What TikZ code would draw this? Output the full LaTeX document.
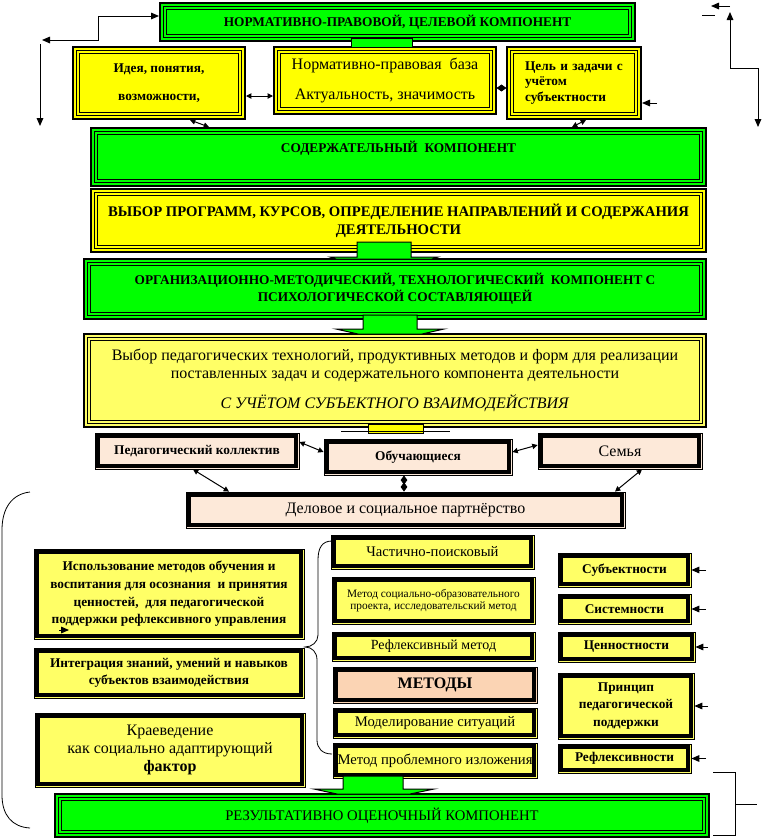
\documentclass[tikz,border=0pt]{standalone}
\usepackage{fontspec}
\setmainfont{Liberation Serif}
\usetikzlibrary{arrows.meta}

\definecolor{grn}{HTML}{00FF00}
\definecolor{ylw}{HTML}{FFFF00}
\definecolor{lylw}{HTML}{FFFF66}
\definecolor{pnk}{HTML}{FDE9D9}
\definecolor{pch}{HTML}{FBD4B4}

\tikzset{every picture/.style={line width=0.75pt},
  tribox/.style={draw, line width=1.5pt, inner sep=0pt, align=center,
    path picture={
      \draw[line width=1.2pt] ([shift={(2.6pt,2.6pt)}]path picture bounding box.south west) rectangle ([shift={(-2.6pt,-2.6pt)}]path picture bounding box.north east);
      \draw[line width=1pt] ([shift={(4.9pt,4.9pt)}]path picture bounding box.south west) rectangle ([shift={(-4.9pt,-4.9pt)}]path picture bounding box.north east);}},
  duobox/.style={draw, line width=0.6pt, inner sep=0pt, align=center,
    path picture={
      \draw[line width=3pt] ([shift={(2.5pt,2.5pt)}]path picture bounding box.south west) rectangle ([shift={(-2.5pt,-2.5pt)}]path picture bounding box.north east);}},
  onearrow/.style={-{Triangle[length=6pt,width=5pt]}},
  twoarrow/.style={{Triangle[length=6pt,width=5pt]}-{Triangle[length=6pt,width=5pt]}},
  shortarrow/.style={{Triangle[length=4pt,width=4pt]}-{Triangle[length=4pt,width=4pt]}},
  diamarrow/.style={{Diamond[length=7pt,width=5pt]}-{Diamond[length=7pt,width=5pt]}},
}

\begin{document}
\begin{tikzpicture}[x=0.75pt,y=-0.75pt]
\useasboundingbox (0,0) rectangle (769,840);

%Top row
\node[tribox, fill=grn, minimum width=356.25pt, minimum height=28.5pt, font=\fontsize{10}{12}\selectfont\bfseries] (title) at (397.5,22) {НОРМАТИВНО-ПРАВОВОЙ, ЦЕЛЕВОЙ КОМПОНЕНТ};
\node[tribox, fill=ylw, minimum width=129pt, minimum height=54pt, font=\fontsize{10}{12}\selectfont\bfseries] (idea) at (159,83) {Идея, понятия,\\[9pt] возможности,};
\node[tribox, fill=ylw, minimum width=166.5pt, minimum height=50.25pt, font=\fontsize{12}{14}\selectfont] (norm) at (385,80.5) {Нормативно-правовая\ \ база\\[8pt] Актуальность, значимость};
\node[tribox, fill=ylw, minimum width=100.5pt, minimum height=54pt, text width=73.5pt, align=left, font=\fontsize{10}{11.6}\selectfont\bfseries] (cel) at (574,83) {Цель и задачи с\\ учётом\\ субъектности};

%Main components
\node[tribox, fill=grn, minimum width=461.25pt, minimum height=43.5pt, font=\fontsize{10}{12}\selectfont\bfseries] (sod) at (398.5,157) {\raisebox{6.75pt}[\height][\depth]{СОДЕРЖАТЕЛЬНЫЙ\ \ КОМПОНЕНТ}};
\node[tribox, fill=ylw, minimum width=461.25pt, minimum height=47.25pt, font=\fontsize{11}{13.5}\selectfont\bfseries] (vyb) at (398.5,220.5) {ВЫБОР ПРОГРАММ, КУРСОВ, ОПРЕДЕЛЕНИЕ НАПРАВЛЕНИЙ И СОДЕРЖАНИЯ\\ ДЕЯТЕЛЬНОСТИ};
\node[tribox, fill=grn, minimum width=466.5pt, minimum height=45pt, font=\fontsize{10}{12.75}\selectfont\bfseries] (org) at (395,289) {ОРГАНИЗАЦИОННО-МЕТОДИЧЕСКИЙ, ТЕХНОЛОГИЧЕСКИЙ\ \ КОМПОНЕНТ С\\ ПСИХОЛОГИЧЕСКОЙ СОСТАВЛЯЮЩЕЙ};
\node[tribox, fill=lylw, minimum width=466.5pt, minimum height=69.75pt, font=\fontsize{12}{13}\selectfont] (tech) at (395,380.5) {Выбор педагогических технологий, продуктивных методов и форм для реализации\\ поставленных задач и содержательного компонента деятельности\\[8.75pt] \textit{С УЧЁТОМ СУБЪЕКТНОГО ВЗАИМОДЕЙСТВИЯ}};

%Subjects
\node[duobox, fill=pnk, minimum width=153pt, minimum height=27pt, font=\fontsize{10}{12}\selectfont\bfseries] (ped) at (197,451) {Педагогический коллектив};
\node[duobox, fill=pnk, minimum width=141pt, minimum height=27pt, font=\fontsize{10}{12}\selectfont\bfseries] (obuch) at (418,457) {Обучающиеся};
\node[duobox, fill=pnk, minimum width=123pt, minimum height=27pt, font=\fontsize{12}{14}\selectfont] (sem) at (620,451) {Семья};
\node[duobox, fill=pnk, minimum width=329.25pt, minimum height=27pt, font=\fontsize{12}{14}\selectfont] (del) at (405.5,510) {Деловое и социальное партнёрство};

%Left column
\node[duobox, fill=lylw, minimum width=202.5pt, minimum height=67.5pt, font=\fontsize{10}{13.3}\selectfont\bfseries] (isp) at (169,594) {Использование методов обучения и\\ воспитания для осознания\ \ и принятия\\ ценностей,\ \ для педагогической\\ поддержки рефлексивного управления};
\node[duobox, fill=lylw, minimum width=202.5pt, minimum height=37.5pt, font=\fontsize{10}{12.75}\selectfont\bfseries] (integ) at (169,673) {Интеграция знаний, умений и навыков\\ субъектов взаимодействия};
\node[duobox, fill=lylw, minimum width=202.5pt, minimum height=55.5pt, font=\fontsize{12}{13.5}\selectfont] (kra) at (170,750) {Краеведение\\ как социально адаптирующий\\ \textbf{фактор}};

%Methods
\node[duobox, fill=lylw, minimum width=152.25pt, minimum height=25.5pt, font=\fontsize{11}{13}\selectfont] (chast) at (432.5,552) {Частично-поисковый};
\node[duobox, fill=lylw, minimum width=152.25pt, minimum height=35.25pt, font=\fontsize{8.5}{9}\selectfont] (msop) at (433.5,600.5) {Метод социально-образовательного\\ проекта, исследовательский метод};
\node[duobox, fill=lylw, minimum width=152.25pt, minimum height=21.75pt, font=\fontsize{10.5}{12}\selectfont] (refm) at (433.5,646.5) {Рефлексивный метод};
\node[duobox, fill=pch, minimum width=153pt, minimum height=27pt, font=\fontsize{12}{14}\selectfont\bfseries] (metody) at (435,685) {МЕТОДЫ};
\node[duobox, fill=lylw, minimum width=153pt, minimum height=22.5pt, font=\fontsize{11}{13}\selectfont] (model) at (435,723) {Моделирование ситуаций};
\node[duobox, fill=lylw, minimum width=153pt, minimum height=26.25pt, font=\fontsize{11}{13}\selectfont] (probl) at (435,760.5) {Метод проблемного изложения};

%Principles
\node[duobox, fill=lylw, minimum width=99.75pt, minimum height=25.5pt, font=\fontsize{10}{12}\selectfont\bfseries] (subj) at (624.5,570) {Субъектности};
\node[duobox, fill=lylw, minimum width=99.75pt, minimum height=22.5pt, font=\fontsize{10}{12}\selectfont\bfseries] (sist) at (624.5,609) {Системности};
\node[duobox, fill=lylw, minimum width=102.75pt, minimum height=22.5pt, font=\fontsize{10}{12}\selectfont\bfseries] (cenn) at (626.5,647) {Ценностности};
\node[duobox, fill=lylw, minimum width=102pt, minimum height=49.5pt, font=\fontsize{10}{13}\selectfont\bfseries] (princ) at (626,706) {Принцип\\ педагогической\\ поддержки};
\node[duobox, fill=lylw, minimum width=99.75pt, minimum height=21.75pt, font=\fontsize{10}{12}\selectfont\bfseries] (refl) at (624.5,758.5) {Рефлексивности};

%Result
\node[tribox, fill=grn, minimum width=490.5pt, minimum height=32.25pt, font=\fontsize{11}{13}\selectfont] (rez) at (382,815.5) {РЕЗУЛЬТАТИВНО ОЦЕНОЧНЫЙ КОМПОНЕНТ};

%Connectors between components
\draw[fill=grn] (351,38) rectangle (412,47);
\draw[fill=grn] (357,242) -- (411,242) -- (411,257) -- (438,257) -- (432,259) -- (336,259) -- (330,257) -- (357,257) -- cycle;
\draw[fill=grn] (363,315) -- (417,315) -- (417,329) -- (444,329) -- (422,334) -- (358,334) -- (336,329) -- (363,329) -- cycle;
\draw[fill=ylw] (368,424) rectangle (423,433);
\draw (341,431) -- (450,431);
\draw[fill=grn] (343,776) -- (403,776) -- (403,789) -- (434,789) -- (410,794) -- (337,794) -- (314,789) -- (343,789) -- cycle;

%Free ends
\coordinate (lfa) at (42,40);
\coordinate (lfb) at (40,44);
\coordinate (lfc) at (40,126);
\coordinate (rta) at (711,6);
\coordinate (rtb) at (730,6);
\coordinate (rtc) at (730,12);
\coordinate (rtd) at (758,127);
\coordinate (rte) at (657,103);
\coordinate (ispm) at (59,630);

%Straight Lines
\draw[twoarrow] (lfa) -- (98,40) -- (98,16) -- (98,16 -| title.west);
\draw[onearrow] (lfb) -- (lfc);
\draw[onearrow] (rtb) -- (rta);
\draw[twoarrow] (rtc) -- (730,68) -| (rtd);
\draw (702,15) -- (715,15);
\draw[onearrow] (rte) -- (rte -| cel.east);
\draw[shortarrow] (idea.east |- 0,96) -- (norm.west |- 0,96);
\draw[diamarrow] (norm.east |- 0,88) -- (cel.west |- 0,88);
\draw[shortarrow] (190,0 |- idea.south) -- (209,0 |- sod.north);
\draw[shortarrow] (586,0 |- cel.south) -- (572,0 |- sod.north);
\draw[shortarrow] (ped.east |- 0,442) -- (obuch.west |- 0,452);
\draw[shortarrow] (obuch.east |- 0,452) -- (sem.west |- 0,445);
\draw[shortarrow] (193,0 |- ped.south) -- (229,0 |- del.north);
\draw[diamarrow] (404,0 |- obuch.south) -- (404,0 |- del.north);
\draw[shortarrow] (642,0 |- sem.south) -- (615,0 |- del.north);
\draw[onearrow] (ispm) -- ++(10,0);
\draw[onearrow] (706,0 |- subj.east) -- (subj.east);
\draw[onearrow] (706,0 |- sist.east) -- (sist.east);
\draw[onearrow] (708,0 |- cenn.east) -- (cenn.east);
\draw[onearrow] (708,0 |- princ.east) -- (princ.east);
\draw[onearrow] (706,0 |- refl.east) -- (refl.east);

%Curve Lines
\draw[line width=0.6pt] (30,492) .. controls (12,494) and (2,508) .. (2,530) -- (2,795) .. controls (2,815) and (12,827) .. (30,828);
\draw[line width=0.6pt] (332,541) .. controls (322,541) and (318,548) .. (318,560) -- (318,635) .. controls (318,642) and (312,647) .. (305,647) .. controls (312,647) and (317,652) .. (317,660) -- (317,740) .. controls (317,748) and (322,754) .. (332,754);
\draw (713,772) -- (735,772) -- (735,835) -- (713,835);
\draw (735,804) -- (757,804);

\end{tikzpicture}
\end{document}
